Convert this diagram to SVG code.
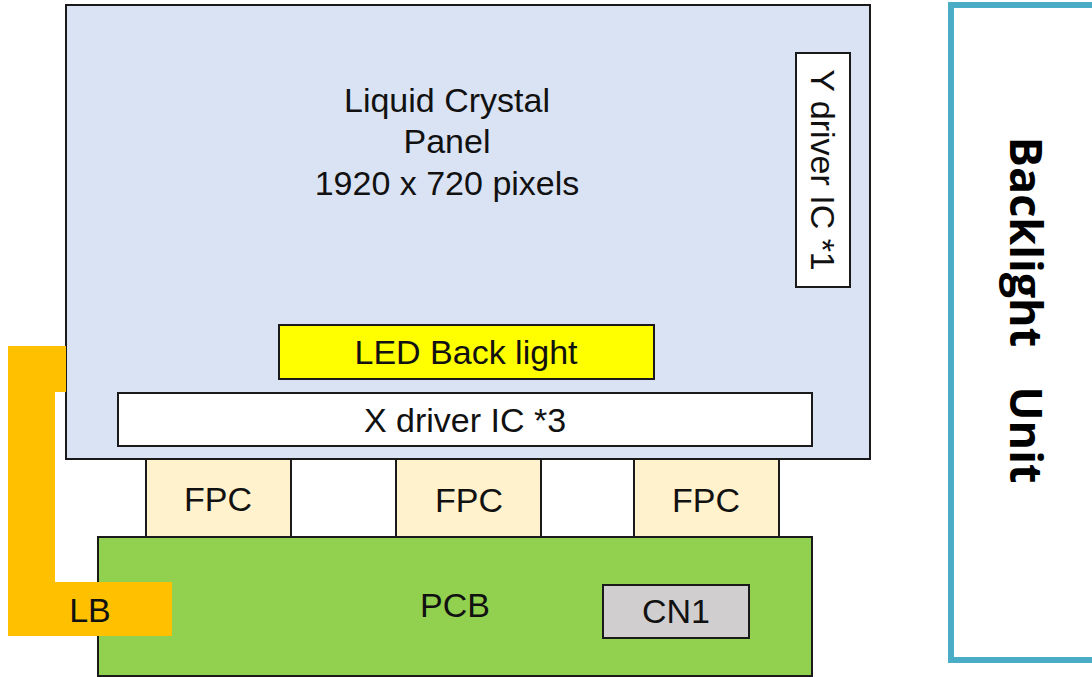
<svg xmlns="http://www.w3.org/2000/svg" width="1092" height="677" viewBox="0 0 1092 677">
<style>
.b{stroke:#1a1a1a;stroke-width:2}
.t{font-family:"Liberation Sans",Arial,sans-serif;font-size:34px;fill:#111;text-anchor:middle;dominant-baseline:central}
.bu{font-family:"Open Sans","DejaVu Sans",sans-serif;font-weight:bold;font-size:45px;fill:#000;text-anchor:middle;dominant-baseline:central}
</style>
<rect width="1092" height="677" fill="#fff"/>
<g id="panel"><rect class="b" x="66" y="5" width="804" height="454" fill="#dae3f3"/>
<text class="t" x="447" y="100">Liquid Crystal</text><text class="t" x="447" y="141">Panel</text><text class="t" x="447" y="183">1920 x 720 pixels</text></g>
<g id="ydriver"><rect class="b" x="796" y="53" width="54" height="234" fill="#fff"/>
<text class="t" transform="translate(823,170) rotate(90)">Y driver IC *1</text></g>
<g id="led"><rect class="b" x="279" y="325" width="375" height="54" fill="#ffff00"/><text class="t" x="466" y="352">LED Back light</text></g>
<g id="xdriver"><rect class="b" x="118" y="393" width="694" height="53" fill="#fff"/><text class="t" x="465" y="420">X driver IC *3</text></g>
<g id="fpc1"><rect class="b" x="146" y="459" width="145" height="78" fill="#fff2cc"/><text class="t" x="218" y="499">FPC</text></g>
<g id="fpc2"><rect class="b" x="396" y="459" width="145" height="78" fill="#fff2cc"/><text class="t" x="469" y="500">FPC</text></g>
<g id="fpc3"><rect class="b" x="634" y="459" width="145" height="78" fill="#fff2cc"/><text class="t" x="706" y="500">FPC</text></g>
<g id="pcb"><rect class="b" x="98" y="537" width="714" height="139" fill="#92d050"/><text class="t" x="455" y="605">PCB</text></g>
<g id="cn1"><rect class="b" x="603" y="585" width="146" height="53" fill="#d0cece"/><text class="t" x="676" y="611">CN1</text></g>
<g id="lb"><path d="M8 346H66V392H55V582H172V636H8Z" fill="#ffc000"/><text class="t" x="90" y="610">LB</text></g>
<g id="backlight"><rect x="951" y="5" width="150" height="655" fill="#fff" stroke="#4bacc6" stroke-width="6"/>
<text class="bu" transform="translate(1027,242) rotate(90)">Backlight</text>
<text class="bu" transform="translate(1027,435) rotate(90)">Unit</text></g>
<g id="connectors"/>
</svg>
